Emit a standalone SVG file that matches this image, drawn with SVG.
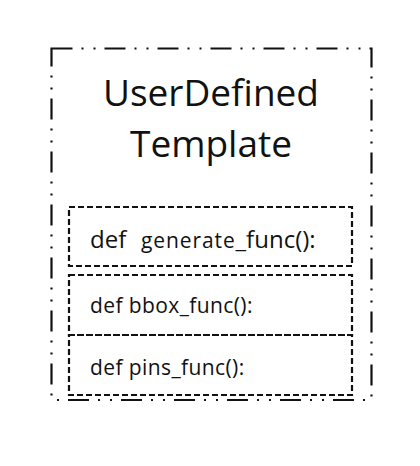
<svg xmlns="http://www.w3.org/2000/svg" width="420" height="466" viewBox="0 0 420 466">
<style>
.outer{fill:none;stroke:#111;stroke-width:2.2;stroke-dasharray:21 9 2 10 2 9}
.inner{fill:none;stroke:#111;stroke-width:2.2;stroke-dasharray:6 3}
text{font-family:"Open Sans","Noto Sans","DejaVu Sans",sans-serif;fill:#111}
.title{font-size:37px}
.big{font-size:24px}
.mid{font-size:21px;letter-spacing:0.9px}
.small{font-size:21px;letter-spacing:0.4px}
</style>
<rect width="420" height="466" fill="#fff"/>
<g id="template">
<rect class="outer" x="51.5" y="48.5" width="320" height="351.5"/>
<text class="title" x="211" y="106" text-anchor="middle">UserDefined</text>
<text class="title" x="211" y="157" text-anchor="middle">Template</text>
</g>
<g id="generate_func">
<rect class="inner" x="69" y="207" width="283" height="59"/>
<text x="90" y="248"><tspan class="big">def</tspan><tspan class="mid" x="141">generate</tspan><tspan class="big">_func():</tspan></text>
</g>
<g id="bbox_func">
<rect class="inner" x="69" y="275" width="283" height="60"/>
<text class="small" x="90" y="313">def bbox_func():</text>
</g>
<g id="pins_func">
<rect class="inner" x="69" y="335" width="283" height="60"/>
<text class="small" x="90" y="375">def pins_func():</text>
</g>
<g id="connectors"></g>
</svg>
